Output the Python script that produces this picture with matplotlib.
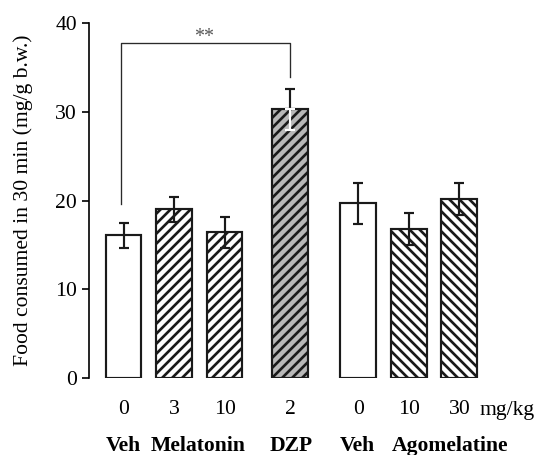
import matplotlib
matplotlib.use("Agg")
import matplotlib.pyplot as plt
import numpy as np

# Data
doses = ["0", "3", "10", "2", "0", "10", "30"]
means = [16.1, 19.0, 16.4, 30.3, 19.7, 16.8, 20.2]
errs = [1.4, 1.4, 1.7, 2.3, 2.3, 1.8, 1.8]
groups = ["Veh", "Melatonin", "DZP", "Veh", "Agomelatine"]
group_x = [0.0, 1.485, 3.32, 4.63, 6.46]
positions = [0, 1, 2, 3.3, 4.65, 5.65, 6.65]
hatches = [None, "////", "////", "////", None, "\\\\\\\\", "\\\\\\\\"]
fills = ["white", "white", "white", "#b8b8b8", "white", "white", "white"]
sig_y = 37.7
sig_left_bottom = 19.6
sig_right_bottom = 33.9

DPI = 120
plt.rcParams["font.family"] = ["Liberation Serif", "DejaVu Serif"]
plt.rcParams["hatch.linewidth"] = 1.6
plt.rcParams["hatch.color"] = "#111111"

fig = plt.figure(figsize=(536 / DPI, 455 / DPI), dpi=DPI)
W, H = 536, 455
left_px, right_px = 89, 500
top_px, bot_px = 23, 378
ax = fig.add_axes([left_px / W, 1 - bot_px / H, (right_px - left_px) / W, (bot_px - top_px) / H])

unit = 50.5
x0 = 123.5
ax.set_xlim((left_px - x0) / unit, (right_px - x0) / unit)
ax.set_ylim(0, 40)

for i, (p, m) in enumerate(zip(positions, means)):
    ax.bar(p, m, width=0.71, color=fills[i], edgecolor="#1a1a1a", linewidth=1.3,
           hatch=hatches[i], zorder=2)

for i, (p, m, e) in enumerate(zip(positions, means, errs)):
    if i == 3:
        ax.errorbar(p, m, yerr=[[0], [e]], fmt="none", ecolor="#1a1a1a", elinewidth=1.3,
                    capsize=3.2, capthick=1.3, zorder=3)
        ax.errorbar(p, m, yerr=[[e], [0]], fmt="none", ecolor="white", elinewidth=1.3,
                    capsize=3.2, capthick=1.3, zorder=3)
    else:
        ax.errorbar(p, m, yerr=e, fmt="none", ecolor="#1a1a1a", elinewidth=1.3,
                    capsize=3.2, capthick=1.3, zorder=3)

# significance bracket
ax.plot([positions[0] - 0.05, positions[0] - 0.05, positions[3], positions[3]],
        [sig_left_bottom, sig_y, sig_y, sig_right_bottom], color="#2a2a2a", lw=0.8, zorder=1)
ax.text((positions[0] + positions[3]) / 2 - 0.05, sig_y - 0.45, "**", ha="center", va="bottom",
        fontsize=12, color="#555555")

# axes styling
for s in ["top", "right", "bottom"]:
    ax.spines[s].set_visible(False)
ax.spines["left"].set_linewidth(1.0)
ax.set_yticks([0, 10, 20, 30, 40])
ax.tick_params(axis="y", length=4.2, width=1.0, pad=3, labelsize=13)
ax.set_xticks([])
ax.set_ylabel("Food consumed in 30 min (mg/g b.w.)", fontsize=13, labelpad=13)

# dose labels
for p, d in zip(positions, doses):
    ax.annotate(d, xy=(p, 1 - 410 / H), xycoords=("data", "figure fraction"),
                ha="center", va="center", fontsize=13)
fig.text(480 / W, 1 - 410 / H, "mg/kg", ha="left", va="center", fontsize=13)

for gx, g in zip(group_x, groups):
    ax.annotate(g, xy=(gx, 1 - 446 / H), xycoords=("data", "figure fraction"),
                ha="center", va="center", fontsize=13, fontweight="bold")

fig.savefig("out.png", dpi=DPI)
